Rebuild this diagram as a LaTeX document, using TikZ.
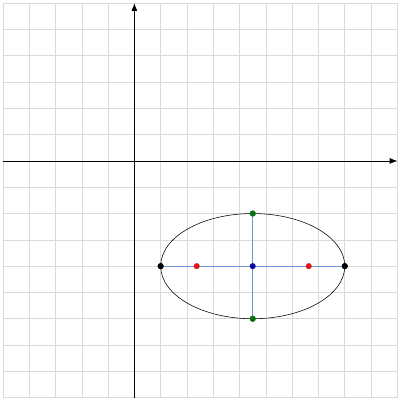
\documentclass[tikz,border=0pt]{standalone}
\usetikzlibrary{arrows.meta}
\definecolor{gridgray}{RGB}{218,218,218}
\definecolor{semiblue}{RGB}{110,145,215}
\definecolor{dotgreen}{RGB}{10,115,20}
\definecolor{dotred}{RGB}{225,20,20}
\definecolor{dotblue}{RGB}{10,10,160}
\tikzset{
  gridline/.style={gridgray, line width=0.6pt},
  axisline/.style={black, line width=0.8pt, -{Latex[length=2.9mm,width=2.2mm]}},
  semiaxis/.style={semiblue, line width=0.6pt},
  ellipseline/.style={black, line width=0.6pt},
  dot/.style={circle, inner sep=0pt, minimum size=2.3mm},
}
\begin{document}
\begin{tikzpicture}
\useasboundingbox (-5.11,-9.09) rectangle (10.1,6.12);
\draw[gridline] (-5,-9) grid (10,6);
\coordinate (xl) at (-5,0);
\coordinate (xr) at (10,0);
\coordinate (yb) at (0,-9);
\coordinate (yt) at (0,6);
\draw[axisline] (xl) -- (xr);
\draw[axisline] (yb) -- (yt);
\coordinate (C) at (4.5,-4);
\draw[ellipseline] (C) ellipse [x radius=3.5, y radius=2];
\node[dot, fill=black] (L) at (1,-4) {};
\node[dot, fill=black] (R) at (8,-4) {};
\node[dot, fill=dotgreen] (T) at (4.5,-2) {};
\node[dot, fill=dotgreen] (B) at (4.5,-6) {};
\draw[semiaxis] (L.center) -- (R.center);
\draw[semiaxis] (T.center) -- (B.center);
\node[dot, fill=black] at (L) {};
\node[dot, fill=black] at (R) {};
\node[dot, fill=dotgreen] at (T) {};
\node[dot, fill=dotgreen] at (B) {};
\node[dot, fill=dotred] (F1) at (2.37,-4) {};
\node[dot, fill=dotred] (F2) at (6.63,-4) {};
\node[dot, fill=dotblue] (O) at (C) {};
\end{tikzpicture}
\end{document}
